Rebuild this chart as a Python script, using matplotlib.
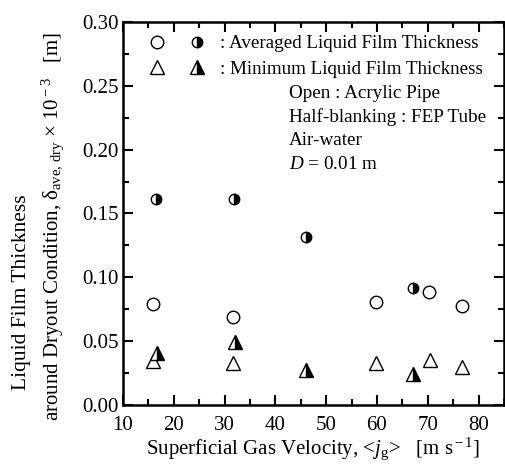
import numpy as np
import matplotlib
matplotlib.use("Agg")
import matplotlib.pyplot as plt
from matplotlib.legend_handler import HandlerTuple
from matplotlib.ticker import MultipleLocator

plt.rcParams['font.family'] = ['Liberation Serif', 'DejaVu Serif']
plt.rcParams['mathtext.fontset'] = 'custom'
plt.rcParams['mathtext.rm'] = 'Liberation Serif'
plt.rcParams['mathtext.it'] = 'Liberation Serif:italic'

# acrylic pipe (open symbols)
jg_open = [15.9, 31.7, 59.8, 70.2, 76.7]
avg_open = [0.0787, 0.0690, 0.0805, 0.0888, 0.0775]
jg_open_min = [15.9, 31.7, 59.8, 70.4, 76.7]
min_open = [0.0340, 0.0325, 0.0330, 0.0350, 0.0300]

# FEP tube (half-blanked symbols)
jg_fep = [16.5, 31.9, 46.0, 67.0]
avg_fep = [0.1615, 0.1615, 0.1315, 0.0915]
jg_fep_min = [16.7, 32.0, 46.0, 67.0]
min_fep = [0.0410, 0.0490, 0.0270, 0.0245]

fig = plt.figure(figsize=(5.06, 4.68), dpi=100)
ax = fig.add_axes([0.243, 0.135, 0.753, 0.818])

h1, = ax.plot(jg_open, avg_open, 'o', ms=9, mfc='white', mec='black', mew=1.0, ls='none')
h2, = ax.plot(jg_fep, avg_fep, 'o', ms=7.5, mfc='black', mfcalt='white', fillstyle='right',
              mec='black', mew=1.0, ls='none')
h3, = ax.plot(jg_open_min, min_open, '^', ms=10, mfc='white', mec='black', mew=1.0, ls='none')
h4, = ax.plot(jg_fep_min, min_fep, '^', ms=10, mfc='black', mfcalt='white', fillstyle='right',
              mec='black', mew=1.0, ls='none')

ax.set_xlim(10, 85)
ax.set_ylim(0, 0.30)
ax.xaxis.set_major_locator(MultipleLocator(10))
ax.xaxis.set_minor_locator(MultipleLocator(5))
ax.yaxis.set_minor_locator(MultipleLocator(0.025))
yt = np.arange(0, 0.31, 0.05)
ax.set_yticks(yt)
ax.set_yticklabels(['%.2f' % v for v in yt])
ax.tick_params(which='both', direction='in', top=True, right=True, labelsize=15, width=1.5)
ax.tick_params(which='major', length=7)
ax.tick_params(which='minor', length=4)
ax.tick_params(axis='y', pad=3)
ax.tick_params(axis='x', pad=8)
for s in ax.spines.values():
    s.set_linewidth(1.8)

ax.set_xlabel(r'Superficial Gas Velocity, <$j_{\rm g}$>   [m s$^{\rm -1}$]', fontsize=15, labelpad=0)

# y label: two lines placed separately
fig.text(0.043, 0.167, 'Liquid Film Thickness', rotation=90, fontsize=15.5, ha='center', va='bottom')
fig.text(0.105, 0.100, r'around Dryout Condition, $\mathrm{δ}_{\rm ave,\,dry}$ $\times$ 10$^{\rm -3}$   [m]',
         rotation=90, fontsize=15, ha='center', va='bottom')

leg = ax.legend([(h1, h2), (h3, h4)],
                [': Averaged Liquid Film Thickness', ': Minimum Liquid Film Thickness'],
                handler_map={tuple: HandlerTuple(ndivide=None, pad=1.05)},
                loc='upper left', bbox_to_anchor=(24 / 381, 1 - 13 / 383), frameon=False,
                fontsize=13.7, handlelength=3.15, handletextpad=0.68, labelspacing=0.42,
                borderaxespad=0, borderpad=0)

notes = ['Open : Acrylic Pipe', 'Half-blanking : FEP Tube', 'Air-water', r'$D$ = 0.01 m']
for i, t in enumerate(notes):
    ax.text(0.436, 0.812 - i * 0.061, t, transform=ax.transAxes, fontsize=13.8, va='center')

fig.savefig('out.png', dpi=100)
